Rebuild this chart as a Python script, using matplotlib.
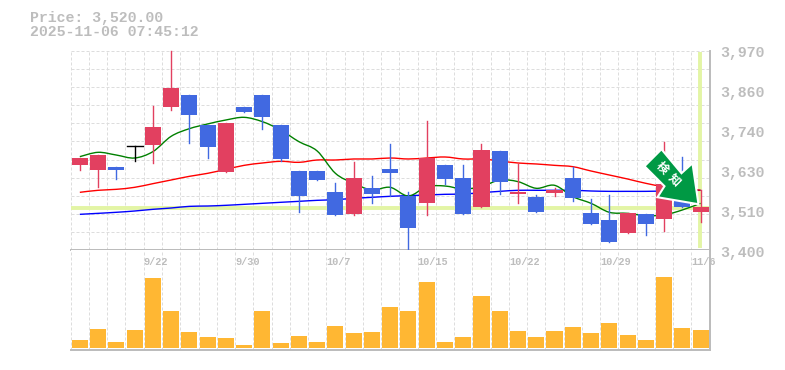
import matplotlib
matplotlib.use("Agg")
from matplotlib import pyplot as plt
from matplotlib.patches import Polygon, PathPatch
from matplotlib.path import Path
from matplotlib.transforms import Affine2D

# candles, index 0 to 34
opens  = [3643.5,3629,3638,3697,3701,3809.6,3844,3758,3623.4,3809.6,3844,3758,3626.3,3626.3,3566,3503,3577.6,3632,3554.7,3534.6,3643.5,3606.3,3523,3683.6,3560.4,3552,3563,3606.3,3506,3486,3448.7,3503,3489,3581,3509]
closes = [3663.5,3672,3629,3697,3752,3864,3787,3695,3764,3795.3,3781,3660.7,3554.7,3600.5,3500.3,3606.3,3560.4,3620.6,3463,3663.5,3603.4,3503,3686.4,3595,3566,3509,3572,3549,3474.5,3423,3506,3474.5,3589,3523,3523]
highs  = [3663.5,3672,3638,3697,3812.5,3970,3844,3758,3764,3809.6,3844,3758,3626.3,3626.3,3592,3652,3612,3703.6,3566,3769.5,3643.5,3643.5,3703.6,3683.6,3646,3557.5,3577.6,3638,3546,3557.5,3506,3503,3709.4,3666.4,3571]
lows   = [3629,3580.5,3603.4,3655,3649,3801,3706.5,3663.5,3623.4,3795.3,3746.6,3655,3509,3600.5,3500.3,3500.3,3534.6,3554.7,3400,3500.3,3589,3503,3523,3560.4,3534.6,3509,3554.7,3540.4,3474.5,3423,3448.7,3443,3454.5,3523,3480]
volumes = [24,57,18,54,210,111,48,33,30,9,111,15,36,18,66,45,48,123,111,198,18,33,156,111,51,33,51,63,45,75,39,24,213,60,54]

ma_short = [3667.4,3679.8,3672,3663.5,3681.7,3725.6,3747.5,3761,3772.4,3780,3767.6,3743.7,3710.3,3683.6,3619.6,3591,3572,3579.5,3554.7,3581.4,3583.3,3574.7,3581.4,3600.5,3595.8,3576.7,3585.3,3552.8,3533.7,3508,3505,3498.4,3500.3,3514.6,3533.7]
ma_mid = [3565.2,3571,3573.8,3579.5,3590,3600.5,3611,3619.6,3631,3642.5,3649.2,3654,3651.1,3657.8,3657.8,3660.7,3660.7,3663.5,3660.7,3663.5,3666.4,3660.7,3660.7,3655,3649.2,3646.4,3642.5,3638.7,3626.3,3614.8,3603.4,3591,3581.4,3576.7,3571]
ma_long = [3502.2,3505,3508,3511.7,3516.5,3520.3,3525,3526,3528,3530.8,3533.7,3536.6,3539.4,3542.3,3544.2,3548,3550.9,3553.8,3555.7,3557.5,3559.5,3560.4,3564.2,3568,3571,3571,3571,3571,3569,3568,3568,3568,3569,3570,3571]

price_labels = ["3,970","3,860","3,740","3,630","3,510","3,400"]
date_labels = ["9/22","9/30","10/7","10/15","10/22","10/29","11/6"]
date_index = [4,9,14,19,24,29,34]
last_price = 3520
signal_chars = ["検","知"]

RED = "#E24060"
BLUE = "#4169E1"
ORANGE = "#FFB733"
YELLOW = "#E3F5A5"
GRID = "#DDDDDD"
AXIS = "#BBBBBB"
TEXT = "#BDBDBD"
MONO = "Liberation Mono"
W, H = 785, 370

def smooth_line(a, xs, ys, col):
    # the source draws its averages as smooth curves through the points
    verts = [(xs[0], ys[0])]
    codes = [Path.MOVETO]
    n = len(xs)
    for i in range(n-1):
        p0 = max(i-1, 0)
        p3 = min(i+2, n-1)
        verts.append((xs[i]+(xs[i+1]-xs[p0])/6, ys[i]+(ys[i+1]-ys[p0])/6))
        verts.append((xs[i+1]-(xs[p3]-xs[i])/6, ys[i+1]-(ys[p3]-ys[i])/6))
        verts.append((xs[i+1], ys[i+1]))
        codes += [Path.CURVE4]*3
    a.add_patch(PathPatch(Path(verts, codes), fill=False, edgecolor=col, lw=1.0, zorder=2))

fig = plt.figure(figsize=(W/100, H/100), dpi=100)
ax = fig.add_axes([70.7/W, 1-250/H, 639/W, 199/H])
vol = fig.add_axes([70.7/W, 1-350/H, 639/W, 100/H])

for a in (ax, vol):
    a.set_xlim(-0.5, 34.5)
    a.set_xticks([])
    a.set_yticks([])
    for s in ["left", "top"]:
        a.spines[s].set_visible(False)
    for s in ["right", "bottom"]:
        a.spines[s].set_color(AXIS)
        a.spines[s].set_linewidth(1.4)
    for i in range(35):
        a.axvline(i-0.5, color=GRID, lw=0.72, ls=(0, (3, 2)), zorder=0)

ax.set_ylim(3400, 3970)
for k in range(11):
    ax.axhline(3970-k*570/11, color=GRID, lw=0.72, ls=(0, (3, 2)), zorder=0)

# yellow price markers
ax.axhline(last_price, color=YELLOW, lw=2.8, zorder=1)
ax.plot([33.98, 33.98], [3405, 3968], color=YELLOW, lw=2.8, zorder=1, solid_capstyle="butt")

# moving averages behind the candles
x = list(range(35))
smooth_line(ax, x, ma_long, "#0000FF")
smooth_line(ax, x, ma_mid, "#FF0000")
smooth_line(ax, x, ma_short, "#008000")

for i in x:
    o, c = opens[i], closes[i]
    if o == c:
        col = "black"
    elif c > o:
        col = RED
    else:
        col = BLUE
    ax.plot([i, i], [lows[i], highs[i]], color=col, lw=1.0, zorder=3, clip_on=False)
    if o == c:
        ax.plot([i-0.44, i+0.44], [o, o], color=col, lw=1.0, zorder=3)
    else:
        ax.bar(i, c-o, bottom=o, width=0.88, color=col, zorder=3)

vol.bar(x, volumes, width=0.88, color=ORANGE, zorder=2)
vol.set_ylim(-6, 294)

# date labels start at the grid line left of their candle
for i, lab in zip(date_index, date_labels):
    vol.text(i-0.5, 258, lab, family=MONO, fontsize=7.4, fontweight="bold", color=TEXT, ha="left", va="center", clip_on=False, zorder=4)

# price labels on the right
for k, lab in enumerate(price_labels):
    fig.text(720/W, 1-(52.5+40.1*k)/H, lab, family=MONO, fontsize=10.7, fontweight="bold", color=TEXT, ha="left", va="center")

fig.text(30/W, 1-18/H, "Price: 3,520.00", family=MONO, fontsize=10.7, fontweight="bold", color=TEXT, ha="left", va="center")
fig.text(30/W, 1-32/H, "2025-11-06 07:45:12", family=MONO, fontsize=10.7, fontweight="bold", color=TEXT, ha="left", va="center")

# signal arrow, pixel shape hung on the last candle
arrow_shape = [(-36,-54),(-53,-37),(-33,-17),(-40,-6),(1,1),(-5,-40),(-16,-30)]
char_offsets = [(-35.7,-35.3),(-22.7,-23.3)]
fig.canvas.draw()
tip = ax.transData.transform((33.83, 3534))
tr = Affine2D().scale(1, -1).translate(tip[0], tip[1])
ax.add_patch(Polygon(arrow_shape, closed=True, facecolor="#009944", edgecolor="white", lw=1.5, transform=tr, zorder=5, clip_on=False))
for ch, off in zip(signal_chars, char_offsets):
    ax.text(off[0], off[1], ch, family=["Noto Sans CJK JP", "DejaVu Sans"], fontsize=8.6, fontweight="bold", color="white", rotation=-45, ha="center", va="center", transform=tr, zorder=6, clip_on=False)

fig.savefig("out.png", dpi=100)
